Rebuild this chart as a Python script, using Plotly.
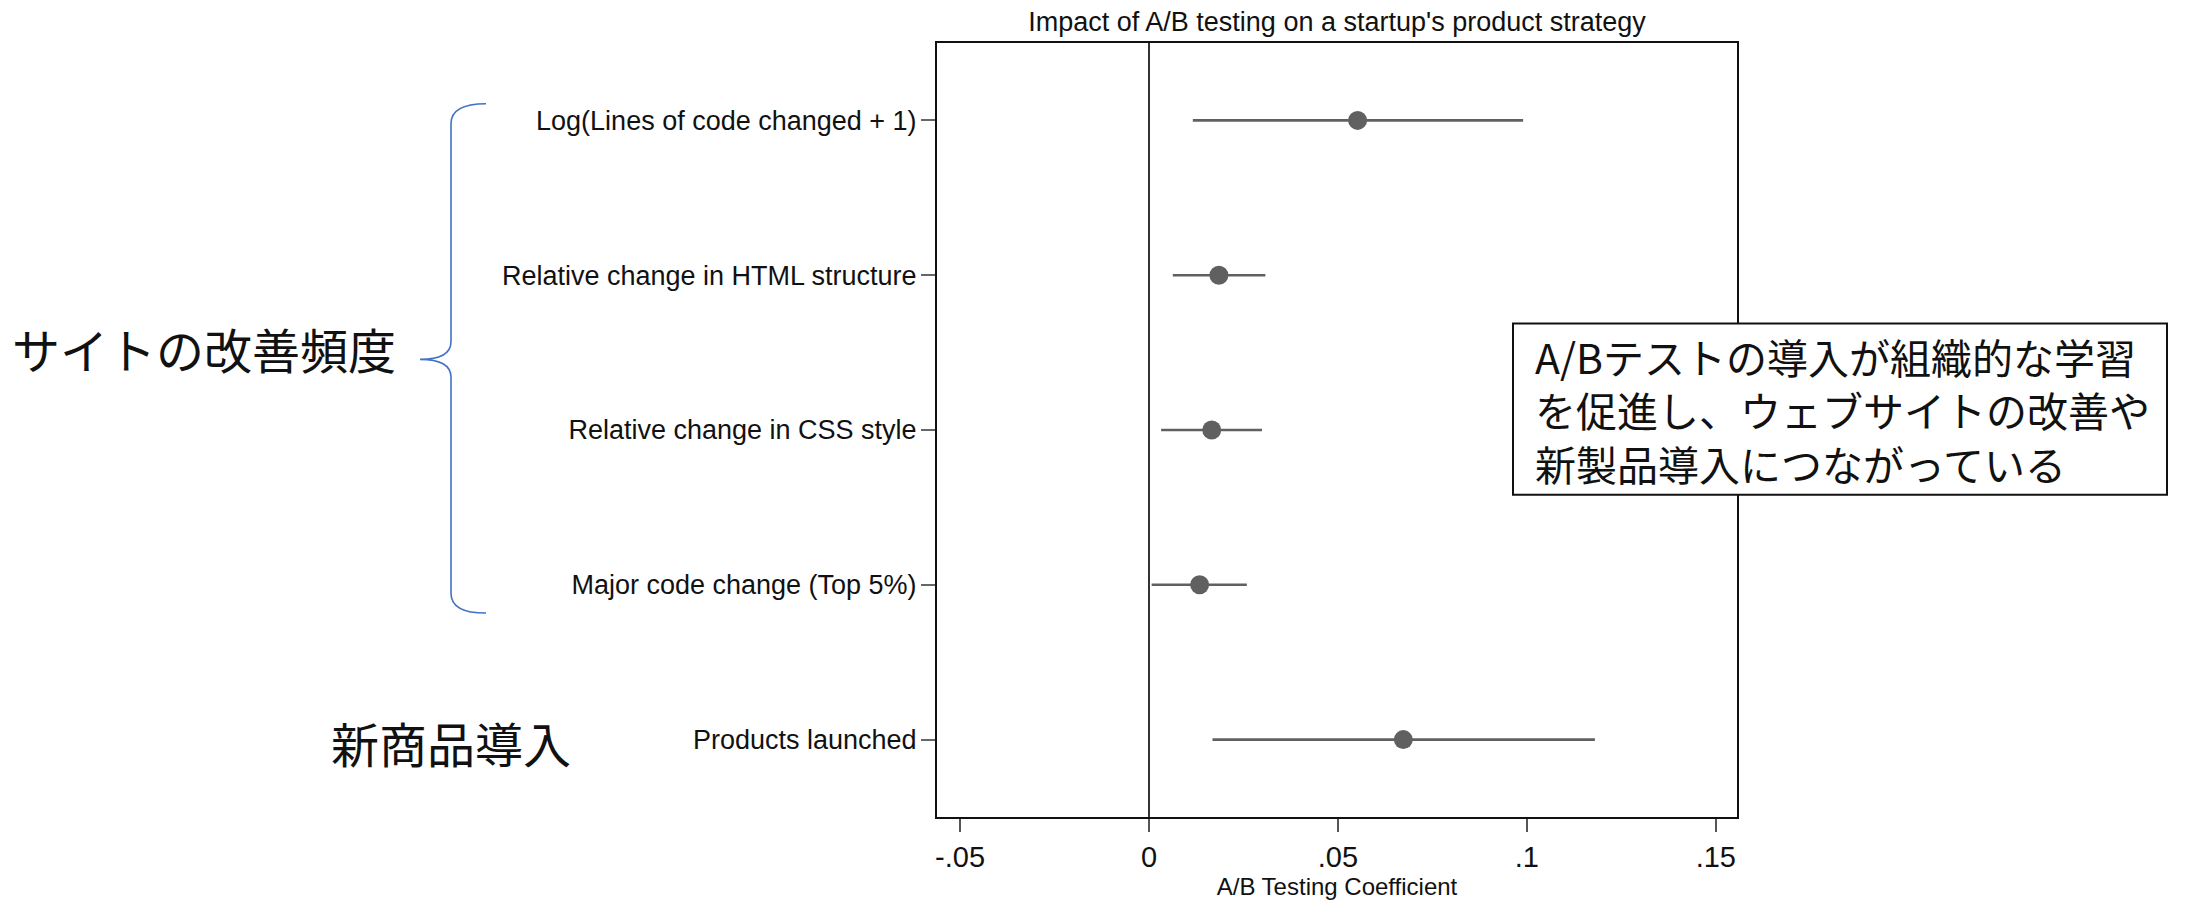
import plotly.graph_objects as go

# ---- data ----
categories = [
    "Log(Lines of code changed + 1)",
    "Relative change in HTML structure",
    "Relative change in CSS style",
    "Major code change (Top 5%)",
    "Products launched",
]
coef = [0.0552, 0.0185, 0.0166, 0.0134, 0.0673]
ci_low = [0.0116, 0.0063, 0.0032, 0.0007, 0.0168]
ci_high = [0.0990, 0.0308, 0.0299, 0.0259, 0.1180]
x_ticks = [-0.05, 0, 0.05, 0.1, 0.15]
x_ticklabels = ["-.05", "0", ".05", ".1", ".15"]

title_text = "Impact of A/B testing on a startup's product strategy"
xaxis_title = "A/B Testing Coefficient"
group1_label = "サイトの改善頻度"
group2_label = "新商品導入"
box_text = "A/Bテストの導入が組織的な学習<br>を促進し、ウェブサイトの改善や<br>新製品導入につながっている"

# ---- layout geometry (page pixels; the page body adds an 8px offset) ----
OFF = 8
W, H = 2197 - OFF, 907 - OFF
PL, PR, PT, PB = 937, 1737, 43, 835      # plot frame (figure pixels + OFF)
PW, PH = PR - PL, PB - PT


def px(x):
    return (x - PL) / PW


def py(y):
    # y given in reference pixels (plot frame 43..821 in the reference)
    return (821 - y) / (821 - 43)


err_plus = [h - c for h, c in zip(ci_high, coef)]
err_minus = [c - l for c, l in zip(coef, ci_low)]

mark_color = "#606060"
fig = go.Figure()
fig.add_trace(go.Scatter(
    x=coef,
    y=categories,
    mode="markers",
    marker=dict(size=19, color=mark_color),
    error_x=dict(type="data", symmetric=False, array=err_plus, arrayminus=err_minus,
                 color=mark_color, thickness=2.6, width=0),
    showlegend=False,
))

sans = "Liberation Sans, Arial, Helvetica, sans-serif"
jp = "Noto Sans CJK JP"

fig.update_layout(
    width=W, height=H,
    margin=dict(l=PL - OFF, r=W - (PR - OFF), t=PT - OFF, b=H - (PB - OFF), pad=0),
    paper_bgcolor="white",
    plot_bgcolor="white",
    font=dict(family=sans, color="#111111"),
    title=dict(text=title_text, x=((PL + PR) / 2 - OFF) / W, xanchor="center",
               y=1 - (22 - OFF) / H, yanchor="middle",
               font=dict(size=27, family=sans, color="#111111")),
    xaxis=dict(
        range=[-0.0561, 0.1556],
        tickvals=x_ticks, ticktext=x_ticklabels,
        ticks="outside", ticklen=13, tickwidth=1.5, tickcolor="#555555",
        tickfont=dict(size=29, family=sans, color="#111111"),
        showgrid=False,
        zeroline=True, zerolinecolor="#333333", zerolinewidth=2.2,
        showline=True, linecolor="#111111", linewidth=2, mirror=True,
        title=dict(text=xaxis_title, font=dict(size=24, family=sans, color="#111111"), standoff=5),
    ),
    yaxis=dict(
        type="category",
        categoryorder="array", categoryarray=categories,
        range=[4.5, -0.5],
        ticks="outside", ticklen=14, tickwidth=1.5, tickcolor="#666666",
        tickfont=dict(size=27, family=sans, color="#111111"),
        ticklabelstandoff=-1,
        showgrid=False, zeroline=False,
        showline=True, linecolor="#111111", linewidth=2, mirror=True,
    ),
)

# curly brace grouping the first four outcomes
brace = (
    f"M {px(486)},{py(104)} Q {px(451)},{py(104)} {px(451)},{py(124)} "
    f"L {px(451)},{py(343)} Q {px(451)},{py(361)} {px(420)},{py(361)} "
    f"Q {px(451)},{py(361)} {px(451)},{py(379)} "
    f"L {px(451)},{py(596)} Q {px(451)},{py(616)} {px(486)},{py(616)}"
)
fig.add_shape(type="path", path=brace, xref="paper", yref="paper",
              line=dict(color="#4472C4", width=1.6))

fig.add_annotation(text=group1_label, xref="paper", yref="paper",
                   x=px(398), y=py(350), xanchor="right", yanchor="middle",
                   showarrow=False, font=dict(size=48, family=jp, color="#111111"))
fig.add_annotation(text=group2_label, xref="paper", yref="paper",
                   x=px(451), y=py(746), xanchor="center", yanchor="middle",
                   showarrow=False, font=dict(size=48, family=jp, color="#111111"))

# text box
fig.add_shape(type="rect", xref="paper", yref="paper",
              x0=px(1513), x1=px(2167), y0=py(497), y1=py(325),
              line=dict(color="#111111", width=2), fillcolor="white", layer="above")
fig.add_annotation(text=box_text, xref="paper", yref="paper",
                   x=px(1533), y=py(411), xanchor="left", yanchor="middle",
                   align="left", showarrow=False,
                   font=dict(size=41, family=jp, color="#111111"))

fig.write_html("out.html")
